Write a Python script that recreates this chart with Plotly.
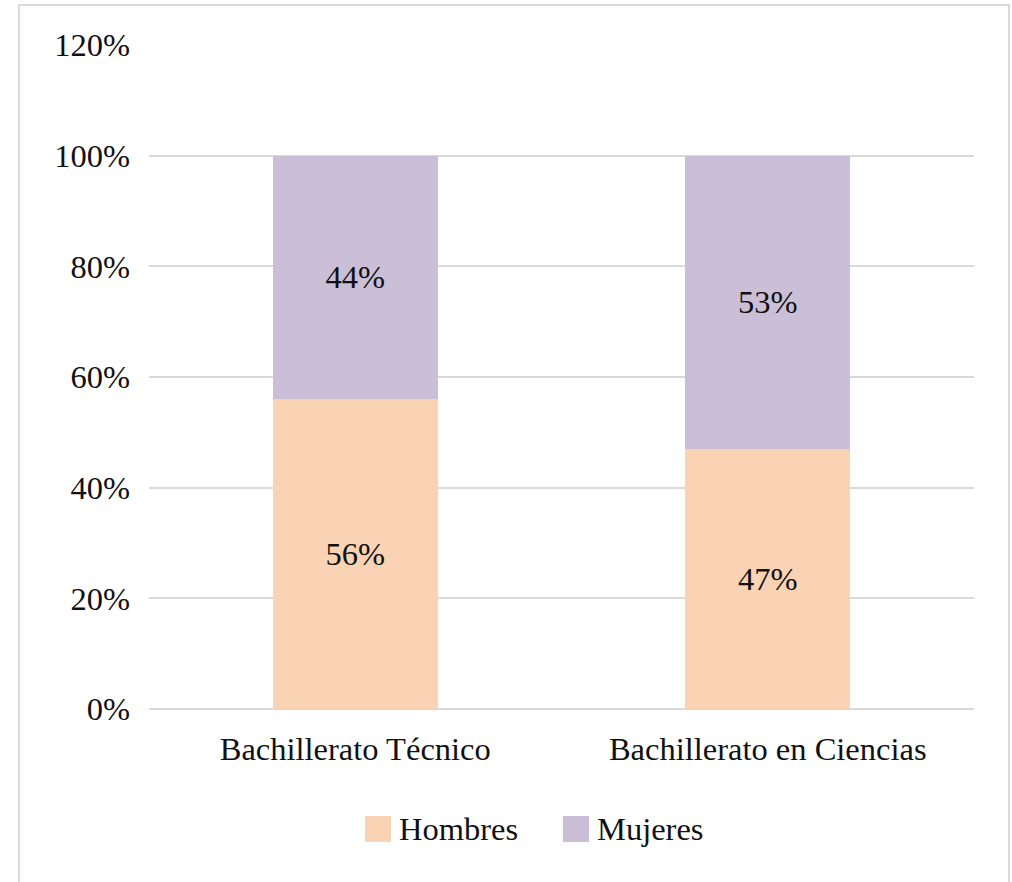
import plotly.graph_objects as go

categories = ["Bachillerato Técnico", "Bachillerato en Ciencias"]
series_names = ["Hombres", "Mujeres"]
hombres = [0.56, 0.47]
mujeres = [0.44, 0.53]
series_values = [hombres, mujeres]
colors = ["#FAD3B4", "#CBBFD8"]
tick_vals = [0, 0.2, 0.4, 0.6, 0.8, 1.0, 1.2]
tick_text = ["0%", "20%", "40%", "60%", "80%", "100%", "120%"]

W, H = 1012, 882
ML, MR, MT, MB = 149, 38, 45, 173
PW, PH = W - ML - MR, H - MT - MB
FONT = "Times New Roman, Times, Liberation Serif, DejaVu Serif"
FS = 32.5


def px(x):
    return (x - ML) / PW


def py(y):
    return (H - MB - y) / PH


fig = go.Figure()
for name, vals, col in zip(series_names, series_values, colors):
    fig.add_trace(go.Bar(
        x=categories, y=vals, name=name,
        marker=dict(color=col, line=dict(width=0)),
        texttemplate="%{y:.0%}", textposition="inside",
        insidetextanchor="middle",
        textfont=dict(family=FONT, size=FS, color="#111111"),
        showlegend=False,
    ))

shapes = [
    dict(type="rect", xref="paper", yref="paper",
         x0=px(19), x1=px(1009), y0=py(900), y1=py(5),
         line=dict(color="#D0D0D0", width=1.5), fillcolor="rgba(0,0,0,0)",
         layer="below"),
]
annotations = []
# custom legend
leg_y = 829
sw = 26
starts = [365, 563]
for name, col, x0 in zip(series_names, colors, starts):
    shapes.append(dict(type="rect", xref="paper", yref="paper",
                       x0=px(x0), x1=px(x0 + sw),
                       y0=py(leg_y + sw / 2), y1=py(leg_y - sw / 2),
                       line=dict(width=0), fillcolor=col))
    annotations.append(dict(xref="paper", yref="paper", x=px(x0 + sw + 6),
                            y=py(leg_y), xanchor="left", yanchor="middle",
                            text=name, showarrow=False,
                            font=dict(family=FONT, size=FS, color="#111111")))

fig.update_layout(
    width=W, height=H,
    margin=dict(l=ML, r=MR, t=MT, b=MB),
    paper_bgcolor="white", plot_bgcolor="white",
    barmode="stack", bargap=0.6,
    showlegend=False,
    font=dict(family=FONT, size=FS, color="#111111"),
    shapes=shapes, annotations=annotations,
    xaxis=dict(showgrid=False, showline=False, zeroline=False,
               tickfont=dict(family=FONT, size=FS, color="#111111"),
               ticks="", ticklabelstandoff=17),
    yaxis=dict(range=[0, 1.2], tickvals=tick_vals, ticktext=tick_text,
               showgrid=True, gridcolor="#D9D9D9", gridwidth=2,
               zeroline=True, zerolinecolor="#D9D9D9", zerolinewidth=2,
               showline=False, ticks="", ticklabelstandoff=18,
               tickfont=dict(family=FONT, size=FS, color="#111111")),
)

fig.write_html("out.html")
